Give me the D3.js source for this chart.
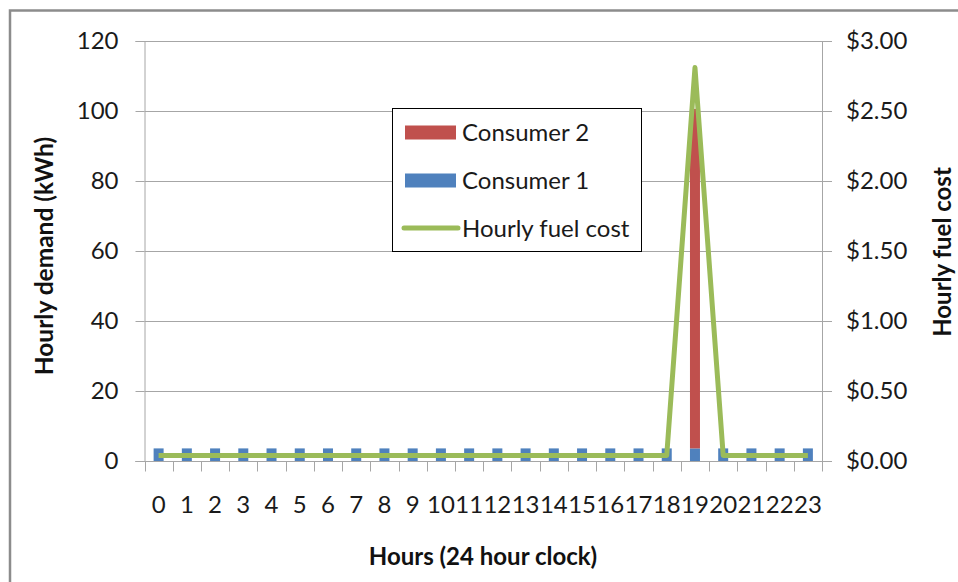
<!DOCTYPE html>
<html>
<head>
<meta charset="utf-8">
<script src="https://cdn.jsdelivr.net/npm/d3@7"></script>
<style>
  html, body { margin: 0; padding: 0; background: #fff; }
  svg { display: block; font-family: Lato, "Open Sans", sans-serif; }
</style>
</head>
<body>
<svg id="chart" width="958" height="582"></svg>
<script>
// ---- data ----
const hours = ["0","1","2","3","4","5","6","7","8","9","10","11","12","13","14","15","16","17","18","19","20","21","22","23"];
const consumer1 = [3.6,3.6,3.6,3.6,3.6,3.6,3.6,3.6,3.6,3.6,3.6,3.6,3.6,3.6,3.6,3.6,3.6,3.6,3.6,3.6,3.6,3.6,3.6,3.6];
const consumer2 = [0,0,0,0,0,0,0,0,0,0,0,0,0,0,0,0,0,0,0,97,0,0,0,0];
const fuelCost  = [0.04,0.04,0.04,0.04,0.04,0.04,0.04,0.04,0.04,0.04,0.04,0.04,0.04,0.04,0.04,0.04,0.04,0.04,0.04,2.81,0.04,0.04,0.04,0.04];
const leftTicks = [0,20,40,60,80,100,120];
const rightTicks = [0,0.5,1,1.5,2,2.5,3];
const seriesNames = ["Consumer 1","Consumer 2"];
const colors = {"Consumer 1":"#4F81BD","Consumer 2":"#C0504D","Hourly fuel cost":"#9BBB59"};

// ---- layout ----
const svg = d3.select("#chart");
const plot = {left:144.5, right:822, top:41, bottom:461};
const gridColor = "#a6a6a6";

// outer border
svg.append("rect").attr("x",10).attr("y",10.5).attr("width",1000).attr("height",700)
  .attr("fill","none").attr("stroke","#8c8c8c").attr("stroke-width",2.5);

const x = d3.scaleBand().domain(hours).range([plot.left, plot.right]).padding(0);
const y = d3.scaleLinear().domain([0,120]).range([plot.bottom, plot.top]);
const y2 = d3.scaleLinear().domain([0,3]).range([plot.bottom, plot.top]);

// gridlines
svg.append("g").selectAll("line").data(leftTicks.filter(d=>d>0)).join("line")
  .attr("x1",plot.left).attr("x2",plot.right)
  .attr("y1",d=>Math.round(y(d))+0.5).attr("y2",d=>Math.round(y(d))+0.5)
  .attr("stroke",gridColor).attr("stroke-width",1);

// stacked bars
const table = hours.map((h,i)=>({hour:h, "Consumer 1":consumer1[i], "Consumer 2":consumer2[i]}));
const stacked = d3.stack().keys(seriesNames)(table);
const barW = 10;
svg.append("g").selectAll("g").data(stacked).join("g")
  .attr("fill",d=>colors[d.key])
  .selectAll("rect").data(d=>d).join("rect")
  .attr("x",d=>x(d.data.hour)+x.bandwidth()/2-barW/2)
  .attr("width",barW)
  .attr("y",d=>y(d[1]))
  .attr("height",d=>y(d[0])-y(d[1]));

// cost line
const line = d3.line().x((d,i)=>x(hours[i])+x.bandwidth()/2).y(d=>y2(d));
svg.append("path").datum(fuelCost).attr("d",line)
  .attr("fill","none").attr("stroke",colors["Hourly fuel cost"])
  .attr("stroke-width",5).attr("stroke-linejoin","round").attr("stroke-linecap","butt");

// axes
const fontSize = 24;
const leftAxis = svg.append("g").attr("transform",`translate(${plot.left},0)`)
  .call(d3.axisLeft(y).tickValues(leftTicks).tickSize(9).tickPadding(17).tickFormat(d3.format("d")));
const rightAxis = svg.append("g").attr("transform",`translate(${plot.right},0)`)
  .call(d3.axisRight(y2).tickValues(rightTicks).tickSize(10).tickPadding(14).tickFormat(d=>"$"+d3.format(".2f")(d)));
const xAxis = svg.append("g").attr("transform",`translate(0,${plot.bottom+0.5})`)
  .call(d3.axisBottom(x).tickSize(0).tickPadding(0));
[leftAxis,rightAxis,xAxis].forEach(g=>{
  g.selectAll(".domain").attr("stroke",gridColor);
  g.selectAll(".tick line").attr("stroke",gridColor);
  g.selectAll("text").attr("font-family","Lato").attr("font-size",fontSize).attr("fill","#1a1a1a");
});
xAxis.select(".domain").attr("d",`M${plot.left-9},0H${plot.right+10}`);
xAxis.selectAll(".tick text").attr("dy",null).attr("y",51.5);
// x tick marks at band boundaries
const bounds = hours.map(h=>x(h)).concat([plot.right]);
xAxis.append("g").selectAll("line").data(bounds).join("line")
  .attr("x1",d=>Math.round(d)+0.5).attr("x2",d=>Math.round(d)+0.5)
  .attr("y1",0).attr("y2",10).attr("stroke",gridColor);

// axis titles
svg.append("text").attr("transform","translate(53,256) rotate(-90)")
  .attr("text-anchor","middle").attr("font-weight","bold").attr("font-size",24.5).attr("fill","#111")
  .text("Hourly demand (kWh)");
svg.append("text").attr("transform","translate(951,252) rotate(-90)")
  .attr("text-anchor","middle").attr("font-weight","bold").attr("font-size",24).attr("fill","#111")
  .text("Hourly fuel cost");
svg.append("text").attr("x",483).attr("y",565)
  .attr("text-anchor","middle").attr("font-weight","bold").attr("font-size",24).attr("fill","#111")
  .text("Hours (24 hour clock)");

// legend
const legend = svg.append("g");
legend.append("rect").attr("x",392.5).attr("y",108.5).attr("width",249).attr("height",143)
  .attr("fill","#fff").attr("stroke","#000").attr("stroke-width",1);
const legendItems = ["Consumer 2","Consumer 1","Hourly fuel cost"];
const legendY = [132.5,180.5,228];
legendItems.forEach((name,i)=>{
  if (name === "Hourly fuel cost") {
    legend.append("line").attr("x1",404).attr("x2",458).attr("y1",legendY[i]).attr("y2",legendY[i])
      .attr("stroke",colors[name]).attr("stroke-width",5).attr("stroke-linecap","round");
  } else {
    legend.append("rect").attr("x",405).attr("y",legendY[i]-7).attr("width",51).attr("height",14)
      .attr("fill",colors[name]);
  }
  legend.append("text").attr("x",462).attr("y",legendY[i]).attr("dy","0.36em")
    .attr("font-size",fontSize).attr("fill","#1a1a1a").text(name);
});
</script>
</body>
</html>
